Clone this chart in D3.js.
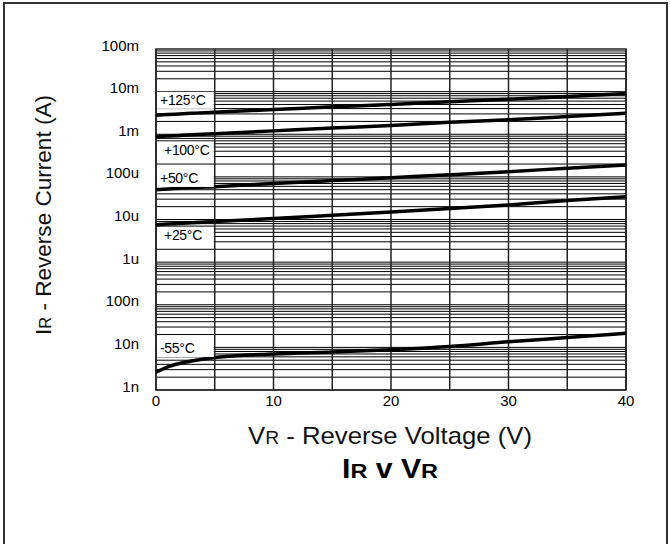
<!DOCTYPE html>
<html>
<head>
<meta charset="utf-8">
<script src="https://cdn.jsdelivr.net/npm/d3@7/dist/d3.min.js"></script>
<style>
  body { margin: 0; background: #fff; }
  svg { display: block; font-family: "Liberation Sans", Arial, sans-serif; }
</style>
</head>
<body>
<div class="chart"></div>
<script>
const vr = [0, 1, 2, 3, 5, 10, 15, 20, 25, 30, 35, 40];
const t125 = [2.8e-3, 2.9e-3, 3.0e-3, 3.1e-3, 3.3e-3, 3.8e-3, 4.4e-3, 5.0e-3, 5.8e-3, 6.6e-3, 7.7e-3, 9.0e-3];
const t100 = [0.88e-3, 0.91e-3, 0.94e-3, 0.97e-3, 1.03e-3, 1.2e-3, 1.4e-3, 1.6e-3, 1.9e-3, 2.2e-3, 2.6e-3, 3.1e-3];
const t50 = [50e-6, 52e-6, 54e-6, 56e-6, 59e-6, 70e-6, 82e-6, 96e-6, 112e-6, 132e-6, 160e-6, 190e-6];
const t25 = [7.5e-6, 7.8e-6, 8.1e-6, 8.4e-6, 9e-6, 10.5e-6, 12.5e-6, 15e-6, 18e-6, 22e-6, 28e-6, 34e-6];
const tm55 = [2.6e-9, 3.5e-9, 4.2e-9, 4.8e-9, 5.8e-9, 7.0e-9, 7.8e-9, 8.8e-9, 10.5e-9, 13.5e-9, 17e-9, 21.5e-9];

const seriesNames = ['+125°C', '+100°C', '+50°C', '+25°C', '-55°C'];
const seriesVals = [t125, t100, t50, t25, tm55];
// label baseline value for each series box
const labelVals = [4.9e-3, 0.33e-3, 72e-6, 3.3e-6, 7.4e-9];

const xTicks = [0, 10, 20, 30, 40];
const xGrid = [0, 5, 10, 15, 20, 25, 30, 35, 40];
const yTicks = [1e-9, 1e-8, 1e-7, 1e-6, 1e-5, 1e-4, 1e-3, 1e-2, 1e-1];
const yTickLabels = ['1n', '10n', '100n', '1u', '10u', '100u', '1m', '10m', '100m'];

const w = 670, h = 544;
const pLeft = 156, pRight = 626, pTop = 49, pBottom = 390;

const svg = d3.select('div.chart').append('svg')
  .attr('width', w)
  .attr('height', h);

// outer frame
svg.append('rect')
  .attr('x', 4).attr('y', 3)
  .attr('width', 663).attr('height', 560)
  .attr('fill', 'none')
  .attr('stroke', '#333')
  .attr('stroke-width', 2);

const x = d3.scaleLinear().domain([0, 40]).range([pLeft, pRight]);
const y = d3.scaleLog().domain([1e-9, 1e-1]).range([pBottom, pTop]);

// log grid, 1..9 per decade
const minor = [];
for (let e = -9; e < -1; e++) {
  for (let m = 1; m < 10; m++) minor.push(m * Math.pow(10, e));
}
svg.append('g').selectAll('line')
  .data(minor)
  .enter().append('line')
  .attr('x1', pLeft).attr('x2', pRight)
  .attr('y1', d => y(d)).attr('y2', d => y(d))
  .attr('stroke', '#000')
  .attr('stroke-width', 1);

svg.append('g').selectAll('line')
  .data(xGrid)
  .enter().append('line')
  .attr('x1', d => x(d)).attr('x2', d => x(d))
  .attr('y1', pTop).attr('y2', pBottom)
  .attr('stroke', '#222')
  .attr('stroke-width', 1.5);

svg.append('rect')
  .attr('x', pLeft).attr('y', pTop)
  .attr('width', pRight - pLeft).attr('height', pBottom - pTop)
  .attr('fill', 'none')
  .attr('stroke', '#222')
  .attr('stroke-width', 1.5);

// curves
const line = d3.line()
  .x((d, i) => x(vr[i]))
  .y(d => y(d))
  .curve(d3.curveMonotoneX);

svg.append('g').selectAll('path')
  .data(seriesVals)
  .enter().append('path')
  .attr('d', d => line(d))
  .attr('fill', 'none')
  .attr('stroke', '#000')
  .attr('stroke-width', 3.5);

// series labels in white boxes
const lab = svg.append('g').selectAll('g')
  .data(seriesNames)
  .enter().append('g');

lab.append('rect')
  .attr('x', x(0) + 1)
  .attr('y', (d, i) => y(labelVals[i]) - 13)
  .attr('width', x(5) - x(0) - 2)
  .attr('height', 17)
  .attr('fill', '#fff');

lab.append('text')
  .attr('x', (d, i) => x(0) + (i === 1 || i === 3 ? 8 : 4))
  .attr('y', (d, i) => y(labelVals[i]))
  .attr('font-size', 14)
  .attr('letter-spacing', -0.3)
  .attr('fill', '#000')
  .text(d => d);

// tick labels
svg.append('g').selectAll('text')
  .data(yTicks)
  .enter().append('text')
  .attr('x', 139)
  .attr('y', d => y(d) + 1.5)
  .attr('text-anchor', 'end')
  .attr('font-size', 15)
  .attr('fill', '#000')
  .text((d, i) => yTickLabels[i]);

svg.append('g').selectAll('text')
  .data(xTicks)
  .enter().append('text')
  .attr('x', d => x(d))
  .attr('y', 406)
  .attr('text-anchor', 'middle')
  .attr('font-size', 15)
  .attr('fill', '#000')
  .text(d => d);

// axis titles
const xt = svg.append('text')
  .attr('x', 390)
  .attr('y', 444)
  .attr('text-anchor', 'middle')
  .attr('font-size', 24)
  .attr('textLength', 284)
  .attr('lengthAdjust', 'spacingAndGlyphs')
  .attr('fill', '#111');
xt.append('tspan').text('V');
xt.append('tspan').attr('font-size', 18).text('R');
xt.append('tspan').text(' - Reverse Voltage (V)');

const yt = svg.append('text')
  .attr('transform', 'translate(51,215) rotate(-90)')
  .attr('text-anchor', 'middle')
  .attr('font-size', 22)
  .attr('textLength', 240)
  .attr('lengthAdjust', 'spacingAndGlyphs')
  .attr('fill', '#111');
yt.append('tspan').text('I');
yt.append('tspan').attr('font-size', 16).text('R');
yt.append('tspan').text(' - Reverse Current (A)');

const tt = svg.append('text')
  .attr('x', 390)
  .attr('y', 478)
  .attr('text-anchor', 'middle')
  .attr('font-size', 27)
  .attr('font-weight', 'bold')
  .attr('textLength', 96)
  .attr('lengthAdjust', 'spacingAndGlyphs')
  .attr('fill', '#000');
tt.append('tspan').text('I');
tt.append('tspan').attr('font-size', 21).text('R');
tt.append('tspan').text(' v V');
tt.append('tspan').attr('font-size', 21).text('R');
</script>
</body>
</html>
